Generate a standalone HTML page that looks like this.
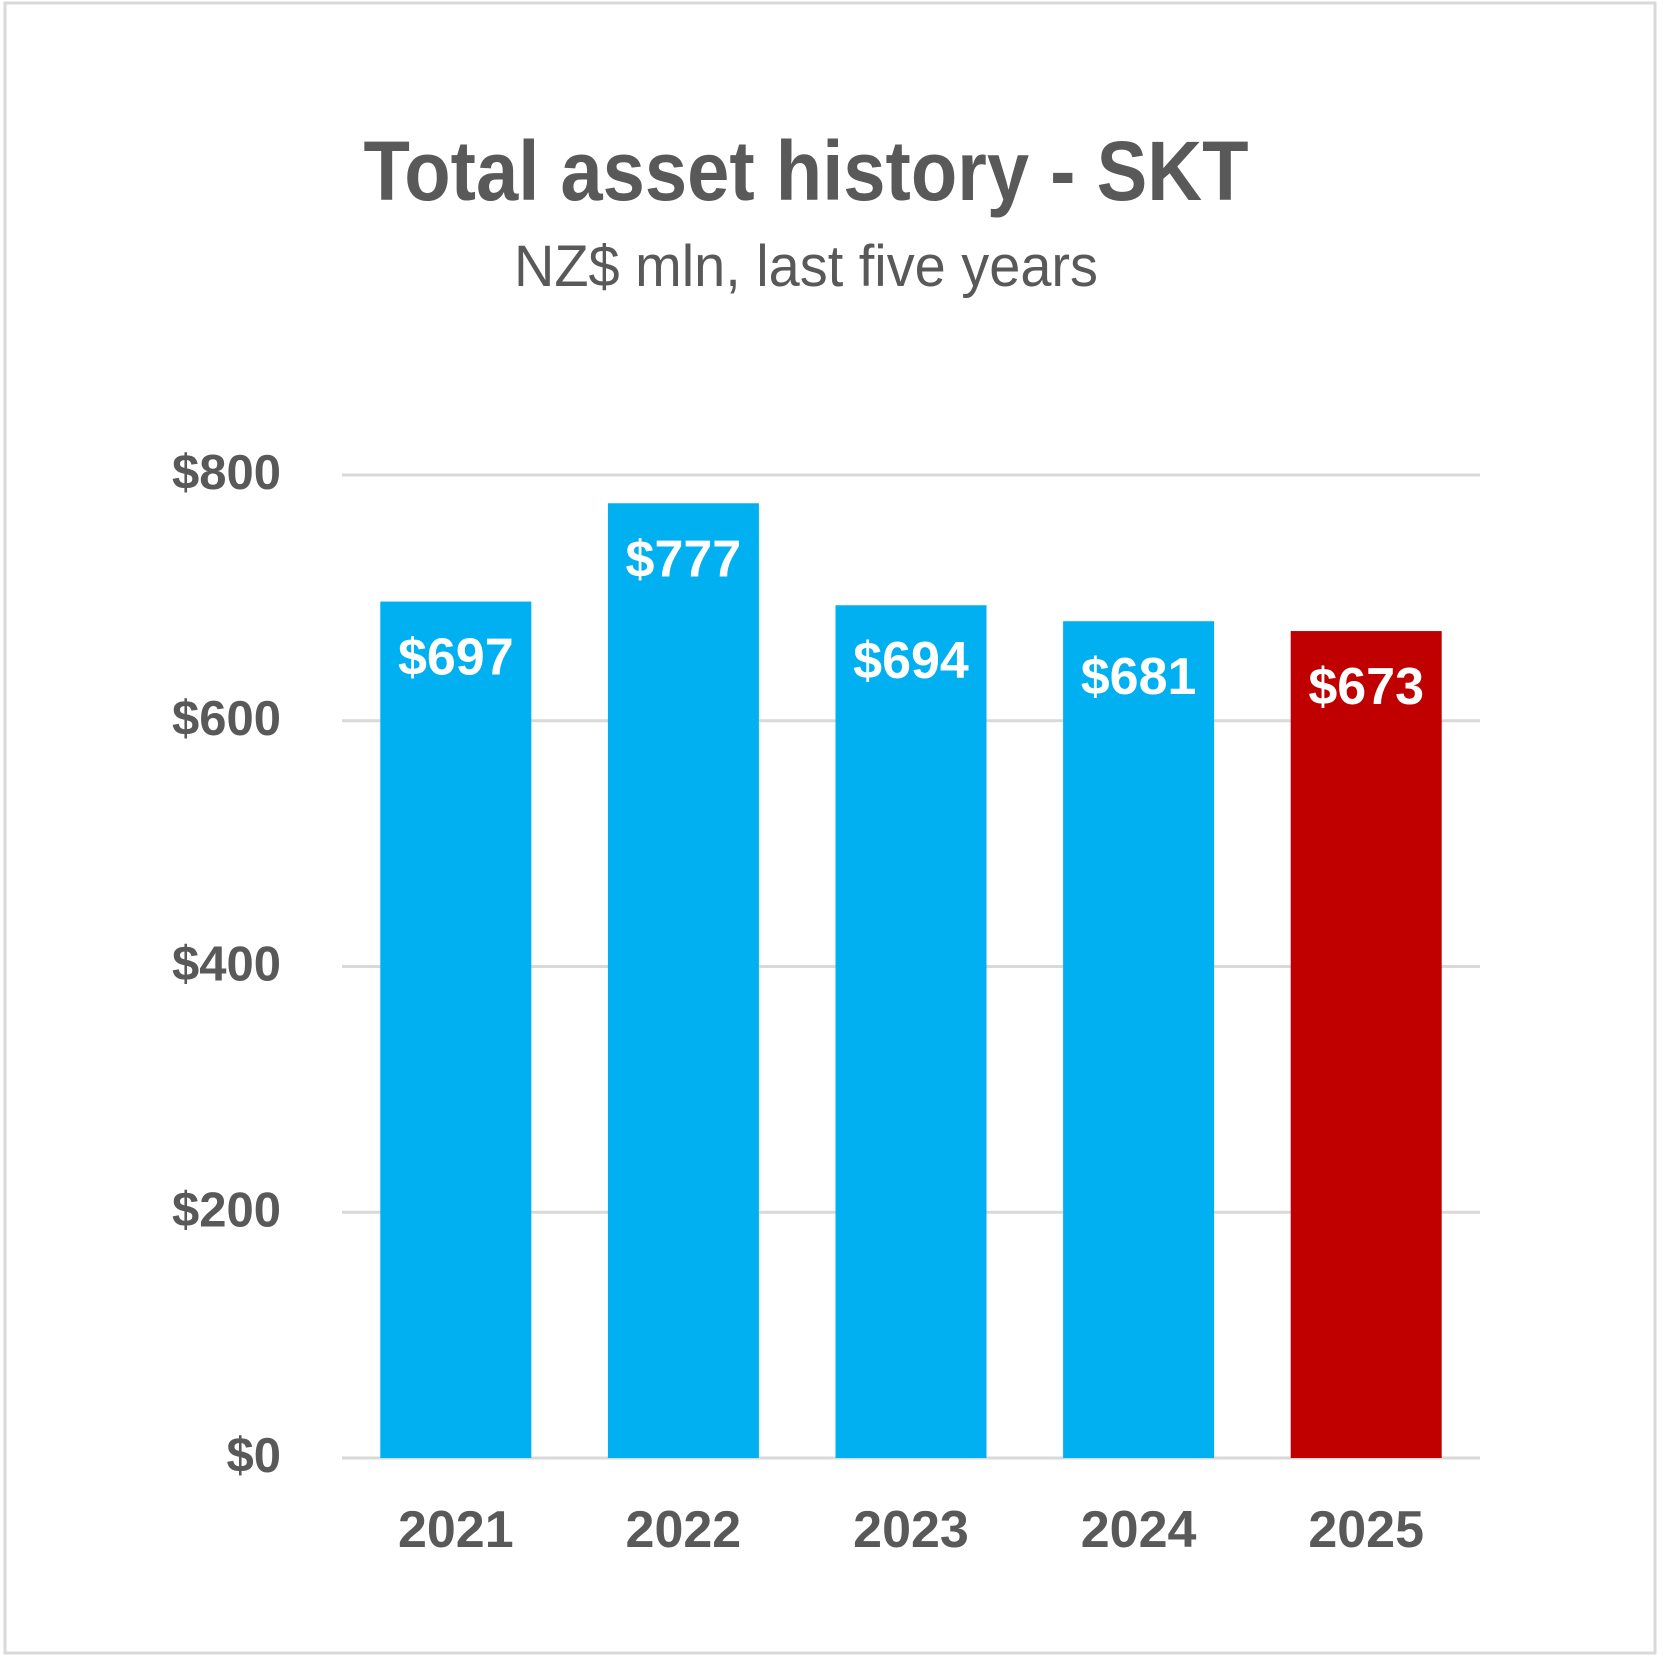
<!DOCTYPE html>
<html><head><meta charset="utf-8"><style>
html,body{margin:0;padding:0;background:#fff;width:1663px;height:1659px;overflow:hidden}
svg{display:block;font-family:"Liberation Sans",Arial,sans-serif}
</style></head><body>
<svg id="chart" width="1663" height="1659" viewBox="0 0 1663 1659">
<rect x="5" y="3" width="1650" height="1650" fill="#fff" stroke="#d9d9d9" stroke-width="3"/>
<text x="806" y="200" text-anchor="middle" font-size="84" font-weight="bold" fill="#595959" textLength="885" lengthAdjust="spacingAndGlyphs">Total asset history - SKT</text>
<text x="806" y="286" text-anchor="middle" font-size="58" fill="#595959" textLength="584" lengthAdjust="spacingAndGlyphs">NZ$ mln, last five years</text>
<g id="grid"></g><g id="bars"></g><g id="labels"></g>
</svg>
<script>
const categories = ["2021","2022","2023","2024","2025"];
const values = [697,777,694,681,673];
const valueLabels = ["$697","$777","$694","$681","$673"];
const yTicks = [0,200,400,600,800];
const yTickLabels = ["$0","$200","$400","$600","$800"];
const highlight = [false,false,false,false,true];

const NS="http://www.w3.org/2000/svg";
const plotL=342, plotR=1480, y0=1458, yTop=475, yMax=800;
const yScale=v=>y0-(v/yMax)*(y0-yTop);
const band=(plotR-plotL)/categories.length;
const barW=151;
const xCenter=i=>plotL+band*(i+0.5);
function mk(tag,attrs,parent){const e=document.createElementNS(NS,tag);for(const k in attrs)e.setAttribute(k,attrs[k]);parent.appendChild(e);return e;}
const grid=document.getElementById('grid'),bars=document.getElementById('bars'),labels=document.getElementById('labels');
yTicks.forEach((t,i)=>{
  const l=mk('line',{x1:plotL,x2:plotR,y1:yScale(t),y2:yScale(t),stroke:'#d9d9d9','stroke-width':3},grid);
  
  
  const tx=mk('text',{x:281,y:yScale(t)+14,'text-anchor':'end','font-size':49,'font-weight':'bold',fill:'#595959'},labels);
  tx.textContent=yTickLabels[i];
  
  
});
categories.forEach((c,i)=>{
  const top=yScale(values[i]);
  const r=mk('rect',{x:xCenter(i)-barW/2,y:top,width:barW,height:y0-top,fill:highlight[i]?'#c00000':'#00b0f0'},bars);
  
  
  const v=mk('text',{x:xCenter(i),y:top+73,'text-anchor':'middle','font-size':52,'font-weight':'bold',fill:'#fff'},labels);
  v.textContent=valueLabels[i];
  
  
  const x=mk('text',{x:xCenter(i),y:1547,'text-anchor':'middle','font-size':52,'font-weight':'bold',fill:'#595959'},labels);
  x.textContent=c;
  
  
});
</script>
</body></html>
